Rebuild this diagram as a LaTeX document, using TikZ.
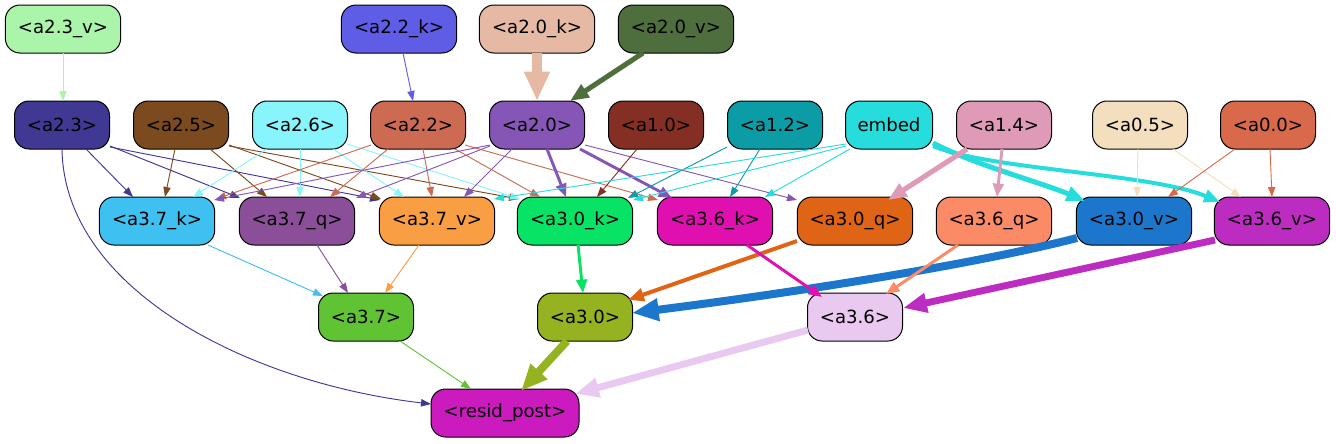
\documentclass[tikz,border=0pt]{standalone}
\usepackage{fontspec}
\setmainfont{DejaVu Sans}
\usetikzlibrary{arrows.meta,calc}
\definecolor{c23v}{HTML}{AAF5AA}
\definecolor{c22k}{HTML}{5F5CE6}
\definecolor{c20k}{HTML}{E5B9A3}
\definecolor{c20v}{HTML}{4E6E3E}
\definecolor{c23}{HTML}{403993}
\definecolor{c25}{HTML}{7B4A1E}
\definecolor{c26}{HTML}{88F4FC}
\definecolor{c22}{HTML}{CD6A52}
\definecolor{c20}{HTML}{8656B6}
\definecolor{c10}{HTML}{852E23}
\definecolor{c12}{HTML}{0C9CA5}
\definecolor{cemb}{HTML}{27DCDD}
\definecolor{c14}{HTML}{DE9AB7}
\definecolor{c05}{HTML}{F3DFBD}
\definecolor{c00}{HTML}{D8694B}
\definecolor{c37k}{HTML}{3EC0F0}
\definecolor{c37q}{HTML}{8B4F9A}
\definecolor{c37v}{HTML}{F99E42}
\definecolor{c30k}{HTML}{08E366}
\definecolor{c36k}{HTML}{E010B0}
\definecolor{c30q}{HTML}{E06416}
\definecolor{c36q}{HTML}{FB8A66}
\definecolor{c30v}{HTML}{1B76CC}
\definecolor{c36v}{HTML}{BD2CC1}
\definecolor{c37}{HTML}{60C334}
\definecolor{c30}{HTML}{95B221}
\definecolor{c36}{HTML}{EAC9F1}
\definecolor{cres}{HTML}{CB1BBE}
\newcommand\edgeline[5]{\draw[#1] ($(#2.center)+(#3)$) -- ($(#4.center)+(#5)$);}
\tikzset{
 nd/.style={draw=black, line width=0.75pt, rounded corners=11pt, minimum height=36pt, inner sep=1pt, font=\fontsize{13.6}{16}\selectfont, text=black},
 wS/.style={minimum width=71.25pt},
 wL/.style={minimum width=86.5pt},
 eA/.style={line width=0.7pt,-{Triangle[length=7.5pt,width=5.5pt]}},
 eB/.style={line width=2.2pt,-{Triangle[length=10pt,width=8pt]}},
 eC/.style={line width=3pt,-{Triangle[length=12pt,width=9.5pt]}},
 eD/.style={line width=3.8pt,-{Triangle[length=14pt,width=11pt]}},
 eE/.style={line width=5.2pt,-{Triangle[length=18pt,width=14pt]}},
 eF/.style={line width=6pt,-{Triangle[length=20pt,width=16pt]}},
}
\begin{document}
\begin{tikzpicture}[x=0.75pt,y=-0.75pt]
\useasboundingbox (0,0) rectangle (1336,443);
% row 1
\node[nd,wL,fill=c23v] (a23v) at (63,29) {<a2.3\_v>};
\node[nd,wL,fill=c22k] (a22k) at (399,29) {<a2.2\_k>};
\node[nd,wL,fill=c20k] (a20k) at (537,29) {<a2.0\_k>};
\node[nd,wL,fill=c20v] (a20v) at (676,29) {<a2.0\_v>};
% row 2
\node[nd,wS,fill=c23] (a23) at (62,125) {<a2.3>};
\node[nd,wS,fill=c25] (a25) at (181,125) {<a2.5>};
\node[nd,wS,fill=c26] (a26) at (300,125) {<a2.6>};
\node[nd,wS,fill=c22] (a22) at (418,125) {<a2.2>};
\node[nd,wS,fill=c20] (a20) at (537,125) {<a2.0>};
\node[nd,wS,fill=c10] (a10) at (656,125) {<a1.0>};
\node[nd,wS,fill=c12] (a12) at (775,125) {<a1.2>};
\node[nd,minimum width=65.25pt,fill=cemb] (emb) at (889,125) {embed};
\node[nd,wS,fill=c14] (a14) at (1004,125) {<a1.4>};
\node[nd,wS,fill=c05] (a05) at (1140,125) {<a0.5>};
\node[nd,wS,fill=c00] (a00) at (1268,125) {<a0.0>};
% row 3
\node[nd,wL,fill=c37k] (a37k) at (157,221) {<a3.7\_k>};
\node[nd,wL,fill=c37q] (a37q) at (297,221) {<a3.7\_q>};
\node[nd,wL,fill=c37v] (a37v) at (437,221) {<a3.7\_v>};
\node[nd,wL,fill=c30k] (a30k) at (575,221) {<a3.0\_k>};
\node[nd,wL,fill=c36k] (a36k) at (715,221) {<a3.6\_k>};
\node[nd,wL,fill=c30q] (a30q) at (855,221) {<a3.0\_q>};
\node[nd,wL,fill=c36q] (a36q) at (994,221) {<a3.6\_q>};
\node[nd,wL,fill=c30v] (a30v) at (1134,221) {<a3.0\_v>};
\node[nd,wL,fill=c36v] (a36v) at (1272,221) {<a3.6\_v>};
% row 4
\node[nd,wS,fill=c37] (a37) at (366,317) {<a3.7>};
\node[nd,wS,fill=c30] (a30) at (585,317) {<a3.0>};
\node[nd,wS,fill=c36] (a36) at (855,317) {<a3.6>};
% row 5
\node[nd,minimum width=111pt,fill=cres] (res) at (505,413) {<resid\_post>};

% row1 -> row2
\edgeline{eA,c23v}{a23v}{0,24}{a23}{1,-24}
\edgeline{eA,c22k}{a22k}{4,24}{a22}{-5,-24}
\draw[line width=7pt,-{Triangle[length=22pt,width=18pt]},c20k] ($(a20k.center)+(0,24)$) -- ($(a20.center)+(0,-24)$);
\edgeline{eD,c20v}{a20v}{-33,24}{a20}{33,-24}

% a2.3
\edgeline{eA,c23}{a23}{24,24}{a37k}{-24,-24}
\edgeline{eA,c23}{a23}{48,21}{a37q}{-57,-23}
\edgeline{eA,c23}{a23}{48,22}{a37v}{-57,-21}
\draw[eA,c23] ($(a23.center)+(0,24)$) .. controls (64,290) and (250,383) .. ($(res.center)+(-74,-9)$);
% a2.5
\edgeline{eA,c25}{a25}{-6,24}{a37k}{8,-24}
\edgeline{eA,c25}{a25}{29,24}{a37q}{-30,-24}
\edgeline{eA,c25}{a25}{48,20}{a37v}{-56,-22}
\edgeline{eA,c25}{a25}{48,21}{a30k}{-56,-22}
% a2.6
\edgeline{eA,c26}{a26}{-33,24}{a37k}{36,-24}
\edgeline{eA,c26}{a26}{0,24}{a37q}{3,-24}
\edgeline{eA,c26}{a26}{33,24}{a37v}{-33,-24}
\edgeline{eA,c26}{a26}{47,19}{a30k}{-55,-22}
% a2.2
\edgeline{eA,c22}{a22}{-47,20}{a37k}{59,-22}
\edgeline{eA,c22}{a22}{-30,24}{a37q}{33,-24}
\edgeline{eA,c22}{a22}{5,24}{a37v}{-5,-24}
\edgeline{eA,c22}{a22}{37,24}{a30k}{-35,-24}
\edgeline{eA,c22}{a22}{47,20}{a36k}{-57,-21}
% a2.0
\edgeline{eA,c20}{a20}{-47,20}{a37k}{57,-21}
\edgeline{eA,c20}{a20}{-47,21}{a37q}{59,-23}
\edgeline{eA,c20}{a20}{-25,24}{a37v}{27,-24}
\edgeline{eB,c20}{a20}{10,24}{a30k}{-9,-24}
\edgeline{eB,c20}{a20}{43,24}{a36k}{-43,-23}
\edgeline{eA,c20}{a20}{48,20}{a30q}{-58,-21}
% a1.0
\edgeline{eA,c10}{a10}{-19,24}{a30k}{22,-24}
% a1.2
\edgeline{eA,c12}{a12}{-48,22}{a30k}{53,-23}
\edgeline{eA,c12}{a12}{-15,24}{a36k}{15,-24}
% embed
\edgeline{eA,cemb}{emb}{-43,19}{a37v}{57,-22}
\edgeline{eA,cemb}{emb}{-43,21}{a30k}{58,-21}
\edgeline{eA,cemb}{emb}{-39,24}{a36k}{50,-24}
\draw[eD,cemb] ($(emb.center)+(44,18)$) .. controls (975,165) and (1040,182) .. ($(a30v.center)+(-49,-20)$);
\draw[eC,cemb] ($(emb.center)+(44,21)$) .. controls (990,170) and (1150,173) .. ($(a36v.center)+(-52,-19)$);
% a1.4
\edgeline{eD,c14}{a14}{-37,24}{a30q}{33,-21}
\edgeline{eB,c14}{a14}{-2,24}{a36q}{3,-24}
% a0.5
\edgeline{eA,c05}{a05}{-2,24}{a30v}{3,-24}
\edgeline{eA,c05}{a05}{33,24}{a36v}{-31,-24}
% a0.0
\edgeline{eA,c00}{a00}{-33,24}{a30v}{34,-24}
\edgeline{eA,c00}{a00}{2,24}{a36v}{0,-24}

% row3 -> row4
\edgeline{eA,c37k}{a37k}{51,24}{a37}{-43,-21}
\edgeline{eA,c37q}{a37q}{20,24}{a37}{-18,-24}
\edgeline{eA,c37v}{a37v}{-18,24}{a37}{19,-24}
\edgeline{eB,c30k}{a30k}{3,24}{a30}{-2,-24}
\edgeline{eC,c30q}{a30q}{-58,20}{a30}{43,-17}
\draw[eF,c30v] ($(a30v.center)+(-57,17)$) .. controls (960,268) and (760,297) .. ($(a30.center)+(47,-4)$);
\edgeline{eB,c36k}{a36k}{32,24}{a36}{-33,-20}
\edgeline{eB,c36q}{a36q}{-36,24}{a36}{31,-23}
\edgeline{eE,c36v}{a36v}{-57,19}{a36}{48,-9}

% row4 -> resid
\edgeline{eA,c37}{a37}{34,24}{res}{-34,-24}
\edgeline{eF,c30}{a30}{-18,24}{res}{16,-22}
\edgeline{eE,c36}{a36}{-47,13}{res}{70,-19}
\end{tikzpicture}
\end{document}
